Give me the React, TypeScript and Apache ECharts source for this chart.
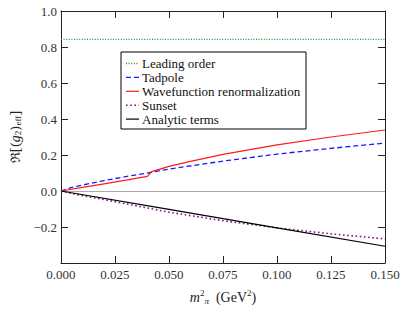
import React, { useEffect, useRef } from "react";
import * as echarts from "echarts";

// ---- data ----
const loX = [0, 0.15];
const loY = [0.842, 0.842];

const tadX = [0, 0.005, 0.01, 0.02, 0.03, 0.04, 0.05, 0.075, 0.1, 0.125, 0.15];
const tadY = [0, 0.02, 0.033, 0.058, 0.08, 0.1, 0.122, 0.166, 0.205, 0.237, 0.266];

const wfX = [0, 0.01, 0.02, 0.03, 0.04, 0.042, 0.05, 0.06, 0.075, 0.1, 0.125, 0.15];
const wfY = [0, 0.02, 0.04, 0.06, 0.081, 0.108, 0.137, 0.165, 0.203, 0.256, 0.3, 0.339];

const sunX = [0, 0.005, 0.01, 0.02, 0.03, 0.04, 0.05, 0.075, 0.1, 0.125, 0.15];
const sunY = [0, -0.014, -0.026, -0.048, -0.071, -0.094, -0.118, -0.165, -0.205, -0.238, -0.266];

const anX = [0, 0.05, 0.1, 0.15];
const anY = [0, -0.102, -0.205, -0.307];

const seriesNames = [
  "Leading order",
  "Tadpole",
  "Wavefunction renormalization",
  "Sunset",
  "Analytic terms",
];

const xTicks = { min: 0, max: 0.15, interval: 0.025 };
const yTicks = { min: -0.4, max: 1.0, interval: 0.2 };

const pairs = (xs: number[], ys: number[]) => xs.map((x, i) => [x, ys[i]]);

const FONT = "Liberation Serif";

const styles = [
  { color: "#2e8b2e", width: 1.3, dash: [1, 1.6] },
  { color: "#1a1aff", width: 1.3, dash: [5, 3] },
  { color: "#ff1a1a", width: 1.2, dash: null },
  { color: "#7a1a7a", width: 1.6, dash: [1.6, 2.6] },
  { color: "#000000", width: 1.2, dash: null },
];

export default function App() {
  const ref = useRef<HTMLDivElement>(null);
  useEffect(() => {
    if (!ref.current) return;
    const chart = echarts.init(ref.current, undefined, { renderer: "svg" });
    const axisLine = { onZero: false, lineStyle: { color: "#222", width: 1 } };
    const tick = { inside: true, length: 7, lineStyle: { color: "#222" } };
    const yFmt = (v: number) => {
      if (v < -0.3) return "";
      if (Math.abs(v) < 1e-9) return "0.0";
      return (v < 0 ? "\u2212" : "") + Math.abs(v).toFixed(1);
    };

    // legend drawn as graphic elements
    const lgLeft = 121, lgTop = 52, lgW = 185, lgH = 77;
    const legendEls: any[] = [
      {
        type: "rect",
        shape: { x: lgLeft, y: lgTop, width: lgW, height: lgH },
        style: { fill: "#fff", stroke: "#000", lineWidth: 1 },
        z: 10,
      },
    ];
    seriesNames.forEach((n, i) => {
      const cy = lgTop + 11.5 + i * 13.9;
      const s = styles[i];
      legendEls.push({
        type: "line",
        shape: { x1: lgLeft + 5, y1: cy, x2: lgLeft + 18, y2: cy },
        style: { stroke: s.color, lineWidth: s.width, lineDash: s.dash || undefined },
        z: 11,
      });
      legendEls.push({
        type: "text",
        x: lgLeft + 21,
        y: cy,
        style: {
          text: n,
          fill: "#111",
          font: `13px ${FONT}`,
          verticalAlign: "middle",
          align: "left",
        },
        z: 11,
      });
    });

    chart.setOption({
      animation: false,
      backgroundColor: "#fff",
      textStyle: { fontFamily: FONT },
      grid: { left: 56, right: 22, top: 11, bottom: 49, containLabel: false },
      graphic: legendEls,
      xAxis: [
        {
          type: "value",
          ...xTicks,
          position: "bottom",
          axisLine,
          axisTick: tick,
          splitLine: { show: false },
          axisLabel: {
            fontFamily: FONT,
            fontSize: 13,
            color: "#333",
            margin: 5,
            formatter: (v: number) => v.toFixed(3),
          },
          name: "{i|m}{sup|2}{sub|\u03c0}{n|  (GeV}{sup|2}{n|)}",
          nameLocation: "middle",
          nameGap: 25,
          nameTextStyle: {
            rich: {
              i: { fontFamily: FONT, fontStyle: "italic", fontSize: 14, color: "#222" },
              n: { fontFamily: FONT, fontSize: 14, color: "#222" },
              sup: { fontFamily: FONT, fontSize: 9, color: "#222", padding: [0, 0, 9, 0] },
              sub: { fontFamily: FONT, fontStyle: "italic", fontSize: 9, color: "#222", padding: [7, 0, 0, 0] },
            },
          },
        },
        {
          type: "value",
          ...xTicks,
          position: "top",
          axisLine,
          axisTick: tick,
          axisLabel: { show: false },
          splitLine: { show: false },
        },
      ],
      yAxis: [
        {
          type: "value",
          ...yTicks,
          position: "left",
          axisLine,
          axisTick: tick,
          splitLine: { show: false },
          axisLabel: {
            fontFamily: FONT,
            fontSize: 13,
            color: "#333",
            margin: 4,
            formatter: yFmt,
          },
          name: "{n|\u211c[(}{i|g}{sub|2}{n|)}{sub|eff}{n|]}",
          nameLocation: "middle",
          nameRotate: 90,
          nameGap: 36,
          nameTextStyle: {
            rich: {
              i: { fontFamily: FONT, fontStyle: "italic", fontSize: 14, color: "#222" },
              n: { fontFamily: "DejaVu Serif", fontSize: 13, color: "#222" },
              sub: { fontFamily: FONT, fontSize: 9, color: "#222", padding: [6, 0, 0, 0] },
            },
          },
        },
        {
          type: "value",
          ...yTicks,
          position: "right",
          axisLine,
          axisTick: tick,
          axisLabel: { show: false },
          splitLine: { show: false },
        },
      ],
      series: [
        {
          name: seriesNames[0],
          type: "line",
          data: pairs(loX, loY),
          symbol: "none",
          lineStyle: { color: styles[0].color, width: styles[0].width, type: styles[0].dash },
          markLine: {
            silent: true,
            symbol: "none",
            label: { show: false },
            lineStyle: { color: "#aaa", width: 1, type: "solid" },
            data: [{ yAxis: 0 }],
          },
          z: 3,
        },
        {
          name: seriesNames[1],
          type: "line",
          data: pairs(tadX, tadY),
          symbol: "none",
          lineStyle: { color: styles[1].color, width: styles[1].width, type: styles[1].dash },
          z: 4,
        },
        {
          name: seriesNames[2],
          type: "line",
          data: pairs(wfX, wfY),
          symbol: "none",
          lineStyle: { color: styles[2].color, width: styles[2].width, type: "solid" },
          z: 5,
        },
        {
          name: seriesNames[3],
          type: "line",
          data: pairs(sunX, sunY),
          symbol: "none",
          lineStyle: { color: styles[3].color, width: styles[3].width, type: styles[3].dash },
          z: 4,
        },
        {
          name: seriesNames[4],
          type: "line",
          data: pairs(anX, anY),
          symbol: "none",
          lineStyle: { color: styles[4].color, width: styles[4].width, type: "solid" },
          z: 5,
        },
      ],
    });
    return () => chart.dispose();
  }, []);
  return (
    <div
      ref={ref}
      style={{ position: "absolute", left: 0, top: 0, width: 407, height: 312 }}
    />
  );
}
